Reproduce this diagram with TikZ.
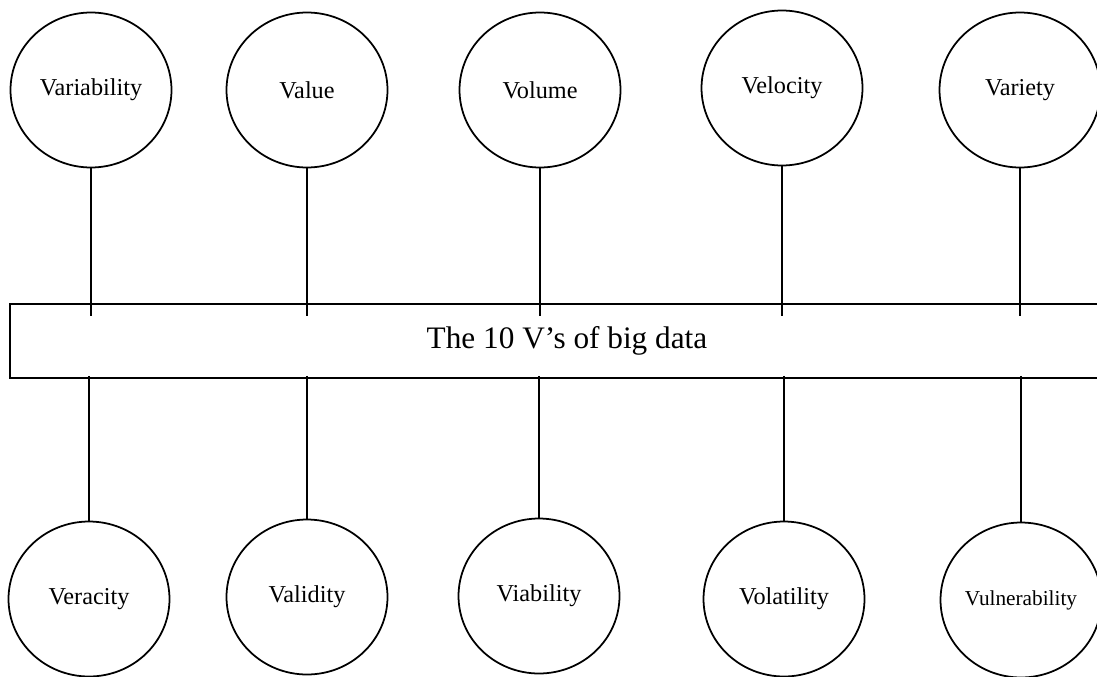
\documentclass[tikz,border=0pt]{standalone}
\usepackage{fontspec}
\setmainfont{Liberation Serif}
\usetikzlibrary{shapes.geometric}

\begin{document}
\begin{tikzpicture}[x=0.02cm, y=-0.02cm, line width=1pt,
        vbubble/.style={draw, ellipse, inner sep=0pt, minimum width=3.22cm, minimum height=3.1cm, font=\fontsize{13.8}{16}\selectfont}]
            \useasboundingbox (0, 0) rectangle (1097, 676);
            \node[draw, rectangle, minimum width=22.28cm, minimum height=1.48cm, font=\fontsize{17.8}{21}\selectfont] (bigdata) at (567, 341) {The 10 V’s of big data};

            \node[vbubble] (variability) at (91, 90) {Variability};
            \node[vbubble] (value) at (307, 90) {Value};
            \node[vbubble] (volume) at (540, 90) {Volume};
            \node[vbubble] (velocity) at (782, 88) {Velocity};
            \node[vbubble] (variety) at (1020, 90) {Variety};

            \node[vbubble] (veracity) at (89, 599) {Veracity};
            \node[vbubble] (validity) at (307, 597) {Validity};
            \node[vbubble] (viability) at (539, 596) {Viability};
            \node[vbubble] (volatility) at (784, 599) {Volatility};
            \node[vbubble, font=\fontsize{12.1}{14}\selectfont] (vulnerability) at (1021, 600) {Vulnerability};

            \draw (variability.south) -- ([yshift=-0.26cm]variability.south |- bigdata.north);
            \draw (value.south) -- ([yshift=-0.26cm]value.south |- bigdata.north);
            \draw (volume.south) -- ([yshift=-0.26cm]volume.south |- bigdata.north);
            \draw (velocity.south) -- ([yshift=-0.26cm]velocity.south |- bigdata.north);
            \draw (variety.south) -- ([yshift=-0.26cm]variety.south |- bigdata.north);

            \draw ([yshift=0.06cm]veracity.north |- bigdata.south) -- (veracity.north);
            \draw ([yshift=0.06cm]validity.north |- bigdata.south) -- (validity.north);
            \draw ([yshift=0.06cm]viability.north |- bigdata.south) -- (viability.north);
            \draw ([yshift=0.06cm]volatility.north |- bigdata.south) -- (volatility.north);
            \draw ([yshift=0.06cm]vulnerability.north |- bigdata.south) -- (vulnerability.north);
        \end{tikzpicture}
\end{document}
